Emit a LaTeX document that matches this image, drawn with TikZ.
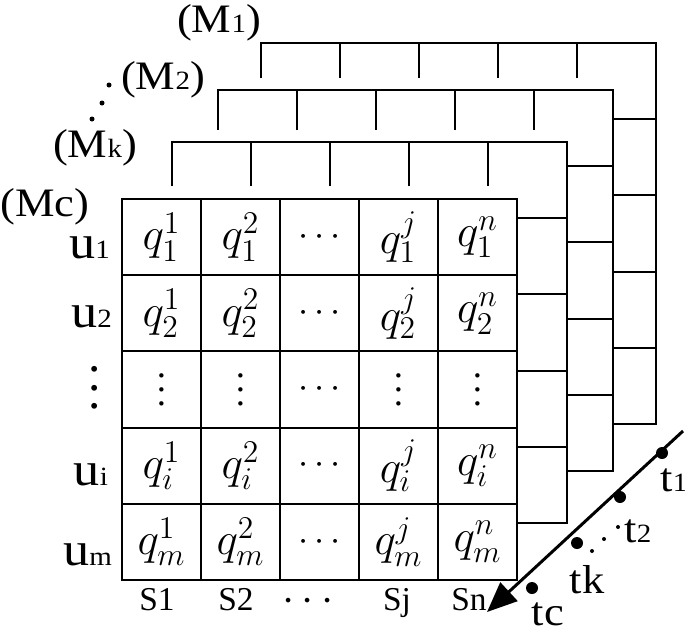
\documentclass[tikz,border=0pt]{standalone}
\usepackage{fontspec}
\setmainfont{Liberation Serif}
\newfontfamily\wideserif[FakeStretch=1.1]{Liberation Serif}
\usetikzlibrary{arrows.meta}
\newcommand{\sm}[1]{{\fontsize{15}{15}\selectfont #1}}
\newcommand{\qq}[2]{\scalebox{1.25}{$q_{#1}^{#2}$}}
\newcommand{\vdts}[1]{\vbox{\baselineskip=#1\lineskiplimit=0pt\hbox{.}\hbox{.}\hbox{.}}}

\begin{document}
\begin{tikzpicture}[x=0.02cm,y=-0.02cm,line width=1.2pt,
  cell/.style={draw,minimum width=1.58cm,minimum height=1.524cm,inner sep=0pt,font=\fontsize{21}{24}\selectfont},
  lbl/.style={inner sep=0pt,font=\wideserif\fontsize{23}{26}\selectfont},
  row/.style={inner sep=0pt,anchor=base east,font=\wideserif\fontsize{27}{30}\selectfont},
  col/.style={inner sep=0pt,anchor=base,font=\fontsize{19}{21}\selectfont},
  tdot/.style={circle,fill=black,inner sep=0pt,minimum size=0.24cm},
  sdot/.style={circle,fill=black,inner sep=0pt,minimum size=0.08cm}]
  \useasboundingbox (0,0) rectangle (685,632);
  % layers behind
  \foreach \dx/\dy/\w/\t in {50/-57/50/44, 96/-109/46/40, 139/-156/43/35}
    \draw[shift={(\dx,\dy)}] (122,{199+\t}) -- (122,199) -- (517,199) -- (517,580) -- ++(-\w,0)
      (201,199) -- ++(0,\t) (280,199) -- ++(0,\t) (359,199) -- ++(0,\t) (438,199) -- ++(0,\t)
      (517,275.2) -- ++(-\w,0) (517,351.4) -- ++(-\w,0) (517,427.6) -- ++(-\w,0) (517,503.8) -- ++(-\w,0);
  % front matrix
  \node[cell] (a1) at (161.5,237.1) {\qq{1}{1}};
  \node[cell] (a2) at (240.5,237.1) {\qq{1}{2}};
  \node[cell] (a3) at (319.5,237.1) {$\cdots$};
  \node[cell] (a4) at (398.5,237.1) {\qq{1}{j}};
  \node[cell] (a5) at (477.5,237.1) {\qq{1}{n}};
  \node[cell] (b1) at (161.5,313.3) {\qq{2}{1}};
  \node[cell] (b2) at (240.5,313.3) {\qq{2}{2}};
  \node[cell] (b3) at (319.5,313.3) {$\cdots$};
  \node[cell] (b4) at (398.5,313.3) {\qq{2}{j}};
  \node[cell] (b5) at (477.5,313.3) {\qq{2}{n}};
  \node[cell] (c1) at (161.5,389.5) {\vdts{8pt}};
  \node[cell] (c2) at (240.5,389.5) {\vdts{8pt}};
  \node[cell] (c3) at (319.5,389.5) {$\cdots$};
  \node[cell] (c4) at (398.5,389.5) {\vdts{8pt}};
  \node[cell] (c5) at (477.5,389.5) {\vdts{8pt}};
  \node[cell] (d1) at (161.5,465.7) {\qq{i}{1}};
  \node[cell] (d2) at (240.5,465.7) {\qq{i}{2}};
  \node[cell] (d3) at (319.5,465.7) {$\cdots$};
  \node[cell] (d4) at (398.5,465.7) {\qq{i}{j}};
  \node[cell] (d5) at (477.5,465.7) {\qq{i}{n}};
  \node[cell] (e1) at (161.5,541.9) {\qq{m}{1}};
  \node[cell] (e2) at (240.5,541.9) {\qq{m}{2}};
  \node[cell] (e3) at (319.5,541.9) {$\cdots$};
  \node[cell] (e4) at (398.5,541.9) {\qq{m}{j}};
  \node[cell] (e5) at (477.5,541.9) {\qq{m}{n}};
  % layer names
  \node[lbl] (m1) at (219,23) {(M\sm{1})};
  \node[lbl] (m2) at (163,80) {(M\sm{2})};
  \node[sdot,minimum size=0.1cm] (md1) at (109,85) {};
  \node[sdot,minimum size=0.1cm] (md2) at (102,103) {};
  \node[sdot,minimum size=0.1cm] (md3) at (92,119) {};
  \node[lbl] (mk) at (95,148) {(M\sm{k})};
  \node[lbl] (mc) at (45,207) {(Mc)};
  % rows and columns
  \node[row] (u1) at (111,258) {u\sm{1}};
  \node[row] (u2) at (113,327) {u\sm{2}};
  \node[lbl,font=\fontsize{28}{30}\selectfont] (ud) at (95,388) {\vdts{10.5pt}};
  \node[row] (ui) at (109,485) {u\sm{i}};
  \node[row] (um) at (113,565) {u\sm{m}};
  \node[col] (s1) at (157,610) {S1};
  \node[col] (s2) at (236,610) {S2};
  \node[lbl,font=\fontsize{30}{30}\selectfont] (sd) at (308,602) {$\cdots$};
  \node[col] (sj) at (397,610) {Sj};
  \node[col] (sn) at (469,610) {Sn};
  % time axis
  \coordinate (ts) at (683,431);
  \coordinate (te) at (487,612);
  \draw[line width=1.7pt,-{Triangle[length=0.6cm,width=0.5cm]}] (ts) -- (te);
  \node[tdot] (p1) at (662,453) {};
  \node[tdot] (p2) at (620,497) {};
  \node[tdot] (pk) at (577,543) {};
  \node[tdot] (pc) at (532,588) {};
  \node[sdot] (pd1) at (618,527) {};
  \node[sdot] (pd2) at (604,539) {};
  \node[sdot] (pd3) at (592,551) {};
  \node[lbl] (t1) at (674,480) {t\sm{1}};
  \node[lbl] (t2) at (638,531) {t\sm{2}};
  \node[lbl] (tk) at (587,580) {tk};
  \node[lbl] (tc) at (548,614) {tc};
\end{tikzpicture}
\end{document}
